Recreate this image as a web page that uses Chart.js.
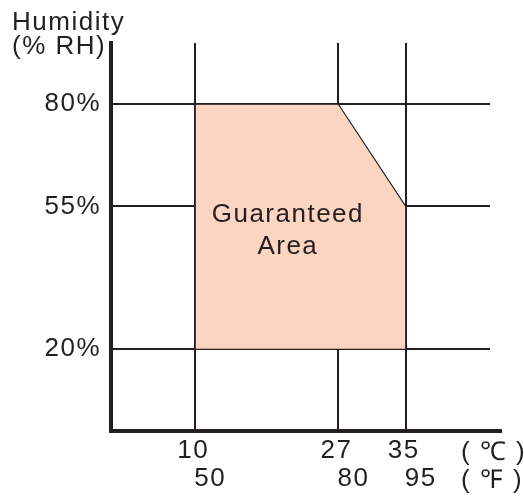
<!DOCTYPE html>
<html><head><meta charset="utf-8">
<script src="https://cdn.jsdelivr.net/npm/chart.js@4"></script>
<style>html,body{margin:0;padding:0;background:#fff}</style>
</head><body>
<canvas id="c" width="524" height="496"></canvas>
<script>
// ---- data ----
const tempC = [10, 27, 35];
const tempF = [50, 80, 95];
const humidityTicks = [20, 55, 80];
const areaX = [10, 10, 27, 35, 35, 10];
const areaY = [20, 80, 80, 55, 20, 20];
const areaLabel = ['Guaranteed', 'Area'];
const yTitle = ['Humidity', '(% RH)'];
const unitLabels = ['( \u2103 )', '( \u2109 )'];

const INK = '#231f20';
const FILL = '#fcd4c2';
const FONT = '"Liberation Sans", Arial, sans-serif';
const FSIZE = 26;

const textPlugin = {
  id: 'texts',
  beforeDraw(chart) { chart.ctx.letterSpacing = '1.5px'; },
  afterDraw(chart) {
    const {ctx, chartArea, scales: {x, y}} = chart;
    ctx.save();
    ctx.letterSpacing = '1.5px';
    ctx.fillStyle = INK;
    ctx.font = FSIZE + 'px ' + FONT;
    // y title
    ctx.textAlign = 'left'; ctx.textBaseline = 'alphabetic';
    ctx.fillText(yTitle[0], 12, 30);
    ctx.fillText(yTitle[1], 12, 54);
    // area label
    ctx.textAlign = 'center'; ctx.textBaseline = 'middle';
    const cx = x.getPixelForValue(21);
    ctx.fillText(areaLabel[0], cx, y.getPixelForValue(53));
    ctx.fillText(areaLabel[1], cx, y.getPixelForValue(45));
    // x tick labels (°C and °F rows)
    const row1 = chartArea.bottom + 20, row2 = chartArea.bottom + 48;
    tempC.forEach((v, i) => {
      const px = x.getPixelForValue(v);
      ctx.fillText(String(v), px - 2, row1);
      ctx.fillText(String(tempF[i]), px + 15, row2);
    });
    ctx.textAlign = 'left';
    ctx.fillText(unitLabels[0], chartArea.right - 29, row1 + 2);
    ctx.fillText(unitLabels[1], chartArea.right - 29, row2 + 2);
    // x axis extension
    ctx.strokeStyle = INK; ctx.lineWidth = 4;
    ctx.beginPath();
    ctx.moveTo(chartArea.right - 2, chartArea.bottom);
    ctx.lineTo(chartArea.right + 12, chartArea.bottom);
    ctx.stroke();
    ctx.restore();
  }
};

new Chart(document.getElementById('c'), {
  type: 'line',
  data: {
    datasets: [{
      data: areaX.map((v, i) => ({x: v, y: areaY[i]})),
      fill: 'shape',
      backgroundColor: FILL,
      borderColor: INK,
      borderWidth: 1.2,
      pointRadius: 0,
      tension: 0
    }]
  },
  options: {
    responsive: false,
    animation: false,
    layout: {padding: {top: 43, right: 34, left: 0, bottom: 0}},
    plugins: {legend: {display: false}, tooltip: {enabled: false}, title: {display: false}},
    scales: {
      x: {
        type: 'linear', min: 0, max: 45,
        afterBuildTicks: s => { s.ticks = tempC.map(v => ({value: v})); },
        ticks: {display: false},
        grid: {color: INK, lineWidth: 2, drawTicks: false},
        border: {color: INK, width: 4},
        afterFit: s => { s.height = 65; }
      },
      y: {
        type: 'linear', min: 0, max: 95,
        afterBuildTicks: s => { s.ticks = humidityTicks.map(v => ({value: v})); },
        ticks: {callback: v => v + '%', font: {family: FONT, size: FSIZE}, color: INK, padding: 10},
        grid: {color: INK, lineWidth: 2, drawTicks: false},
        border: {color: INK, width: 4},
        afterFit: s => { s.width = 111; }
      }
    }
  },
  plugins: [textPlugin]
});
</script>
</body></html>
